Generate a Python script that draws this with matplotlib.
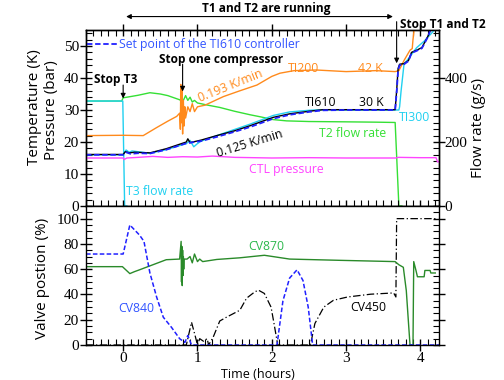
import matplotlib
matplotlib.use("Agg")
import matplotlib.pyplot as plt
from matplotlib.ticker import MultipleLocator, FixedLocator

# ---------------- data (hours, K / bar, g/s, %) ----------------
ti610_t = [-0.5, 0.0, 0.03, 0.08, 0.15, 0.36, 0.58, 0.85, 0.87, 0.9, 1.05, 1.26, 1.5, 1.71, 2.02, 2.24,
           2.5, 2.69, 3.0, 3.4, 3.66, 3.68, 3.70, 3.72, 3.78, 3.84, 3.88, 3.95, 4.02, 4.10, 4.15]
ti610_v = [16.1, 16.1, 17.0, 16.6, 16.8, 16.6, 17.9, 20.0, 21.0, 19.8, 20.6, 22.0, 23.5, 25.1, 27.7, 28.8,
           29.6, 30.1, 30.1, 30.1, 30.1, 36.0, 43.0, 44.3, 44.5, 45.5, 48.0, 48.7, 49.5, 53.0, 56.0]

sp_t = [-0.5, 0.0, 0.04, 0.1, 0.2, 0.36, 0.58, 0.85, 1.05, 1.26, 1.5, 1.71, 2.02, 2.24, 2.5, 2.69,
        3.0, 3.4, 3.66, 3.68, 3.70, 3.72, 3.78, 3.84, 3.88, 3.95, 4.02, 4.10, 4.15]
sp_v = [16.0, 16.0, 16.8, 16.3, 16.5, 16.4, 17.6, 19.6, 20.3, 21.6, 23.2, 24.7, 27.3, 28.5,
        29.4, 29.9, 30.0, 30.0, 30.0, 35.5, 42.5, 44.0, 44.3, 45.3, 47.8, 48.5, 49.3, 52.8, 56.0]

ti300_t = [-0.5, 0.0, 0.04, 0.08, 0.12, 0.36, 0.58, 0.85, 0.9, 0.95, 1.0, 1.05, 1.26, 1.71, 2.02,
           2.24, 2.5, 2.69, 3.0, 3.71, 3.72, 3.74, 3.78, 3.82, 3.87, 3.95, 4.05, 4.15, 4.22]
ti300_v = [16.0, 16.0, 17.5, 16.8, 17.2, 16.5, 17.6, 19.5, 20.5, 18.5, 19.5, 20.3, 22.0, 25.6, 28.3,
           29.4, 29.9, 30.1, 30.0, 30.0, 31.0, 36.0, 44.5, 45.5, 47.0, 49.5, 51.5, 54.0, 56.0]

ti200_t = [-0.5, 0.0, 0.27, 0.45, 0.6, 0.72, 0.76, 0.77, 0.775, 0.78, 0.79, 0.80, 0.81, 0.82, 0.83,
           0.84, 0.87, 0.9, 0.93, 0.96, 1.0, 1.1, 1.35, 1.57, 1.80, 2.0, 2.11, 2.3, 2.6, 3.0, 3.4,
           3.66, 3.71, 3.78, 3.86, 3.89, 3.90, 3.92]
ti200_v = [22.0, 22.1, 22.0, 24.5, 26.5, 28.0, 29.0, 24.0, 38.0, 26.0, 37.0, 22.5, 33.0, 25.0, 31.0,
           27.5, 31.0, 29.5, 32.0, 29.5, 31.0, 31.5, 34.2, 36.0, 37.8, 40.5, 41.5, 42.3, 42.5, 42.0,
           42.3, 42.0, 42.3, 45.5, 48.7, 49.2, 52.0, 56.0]

ctl_t = [-0.5, 0.0, 0.01, 0.05, 0.2, 0.4, 0.6, 0.8, 1.0, 1.2, 1.5, 2.0, 2.5, 3.0, 3.67, 3.70, 4.0,
         4.21, 4.23, 4.25]
ctl_v = [15.0, 15.0, 14.5, 15.0, 15.2, 15.5, 15.2, 15.4, 15.3, 15.6, 15.2, 15.0, 15.1, 15.0, 15.0,
         15.2, 15.1, 15.1, 13.8, 13.8]

t3flow_t = [-0.5, -0.005, 0.02, 0.05]
t3flow_v = [328, 328, 0, 0]

t2flow_t = [-0.5, -0.02, 0.0, 0.1, 0.2, 0.36, 0.5, 0.6, 0.76, 0.8, 0.84, 0.87, 0.9, 0.93, 0.96, 1.0,
            1.12, 1.3, 1.5, 1.71, 1.84, 2.02, 2.2, 2.5, 3.0, 3.4, 3.66, 3.71, 3.75]
t2flow_v = [328, 328, 338, 342, 346, 354, 350, 345, 332, 325, 345, 330, 340, 325, 330, 322,
            316, 308, 296, 285, 279, 270, 266, 264, 263, 262, 261, 0, 0]

cv840_t = [-0.5, 0.0, 0.09, 0.22, 0.28, 0.36, 0.45, 0.54, 0.65, 0.76, 0.83, 0.87, 0.92, 2.07, 2.15,
           2.24, 2.34, 2.42, 2.49, 2.55, 4.25]
cv840_v = [72, 72, 95, 87, 82, 57, 38, 22, 14, 5, 2, 7.5, 0, 0, 35, 53, 59.5, 51, 30, 0, 0]

cv870_t = [-0.5, -0.01, 0.09, 0.15, 0.22, 0.40, 0.58, 0.76, 0.78, 0.785, 0.79, 0.795, 0.80, 0.805,
           0.81, 0.815, 0.82, 0.86, 0.9, 0.93, 0.96, 1.0, 1.03, 1.07, 1.26, 1.57, 1.9, 2.24, 2.92,
           3.66, 3.71, 3.77, 3.81, 3.84, 3.86, 3.90, 3.91, 3.94, 3.96, 4.05, 4.06, 4.13, 4.14, 4.20]
cv870_v = [62, 62, 56.5, 58, 59.5, 63.5, 67.5, 68, 82, 50, 78, 47, 75, 55, 70, 60, 68, 68, 70, 65,
           72, 66, 68, 66, 67.7, 69, 71, 68, 67, 66, 63.5, 61.5, 43, 17, 0, 0, 66, 59, 54, 54, 59,
           59, 57, 57]

cv450_t = [-0.5, 0.85, 0.92, 0.97, 1.0, 1.03, 1.08, 1.13, 1.15, 1.21, 1.30, 1.39, 1.57, 1.66, 1.77,
           1.82, 1.90, 1.99, 2.03, 2.08, 2.52, 2.58, 2.70, 2.83, 3.02, 3.33, 3.64, 3.67, 3.68, 4.22]
cv450_v = [0, 0, 18, 7, 0, 5, 3, 5, 0, 6, 19, 22, 27.5, 37, 42, 43.4, 40.8, 30, 17, 0, 0, 17, 30,
           35.4, 38, 40.2, 41.2, 38, 100, 100]

x_ticks = [0, 1, 2, 3, 4]
temp_ticks = [0, 10, 20, 30, 40, 50]
flow_ticks = [0, 200, 400]
valve_ticks = [0, 20, 40, 60, 80, 100]

# ---------------- style ----------------
ORANGE = '#FF8A1C'
GREEN = '#35E035'
CYAN = '#20D0F0'
BLUE = '#2020FF'
BLUE_TXT = '#3355FF'
MAGENTA = '#FF44FF'
DKGREEN = '#2A8A2A'
GREEN_TXT = '#2DB84D'
SANS = ['Open Sans', 'DejaVu Sans']
SERIF = ['Liberation Serif', 'DejaVu Serif']

plt.rcParams['font.family'] = SANS

W, H = 504, 380
fig = plt.figure(figsize=(W / 100, H / 100), dpi=100)
L, R = 86, 439
ax1 = fig.add_axes([L / W, 1 - 206 / H, (R - L) / W, (206 - 30) / H])
ax3 = fig.add_axes([L / W, 1 - 345 / H, (R - L) / W, (345 - 206) / H], sharex=ax1)
ax2 = ax1.twinx()

lw = 1.0
# flow rates (right axis)
ax2.plot(t2flow_t, t2flow_v, color=GREEN, lw=lw)
ax2.plot(t3flow_t, t3flow_v, color=CYAN, lw=lw)
# temperatures / pressure (left axis)
ax2.set_zorder(ax1.get_zorder() - 1)
ax1.patch.set_visible(False)
ax1.plot(ctl_t, ctl_v, color=MAGENTA, lw=lw)
ax1.plot(ti200_t, ti200_v, color=ORANGE, lw=lw)
ax1.plot(ti300_t, ti300_v, color=CYAN, lw=lw)
ax1.plot(ti610_t, ti610_v, color='black', lw=lw)
ax1.plot(sp_t, sp_v, color=BLUE, lw=1.3, ls=(0, (3, 1.5)))

ax1.set_xlim(-0.5, 4.25)
ax1.set_ylim(0, 55)
ax2.set_ylim(0, 550)

# bottom panel
ax3.plot(cv450_t, cv450_v, color='black', lw=0.9, ls=(0, (6, 2, 1, 2)))
ax3.plot(cv870_t, cv870_v, color=DKGREEN, lw=lw)
ax3.plot(cv840_t, cv840_v, color=BLUE, lw=1.1, ls=(0, (3, 1.5)))
ax3.set_ylim(0, 110)

# ticks
for ax in (ax1, ax2, ax3):
    for sp in ax.spines.values():
        sp.set_linewidth(1.0)

TLS = 11
ax1.yaxis.set_major_locator(FixedLocator(temp_ticks))
ax1.yaxis.set_minor_locator(MultipleLocator(2))
ax1.xaxis.set_major_locator(FixedLocator(x_ticks))
ax1.xaxis.set_minor_locator(MultipleLocator(0.1))
ax1.tick_params(axis='y', which='major', direction='inout', length=8, width=1, labelsize=TLS, pad=1)
ax1.tick_params(axis='y', which='minor', direction='in', length=4, width=0.8)
ax1.tick_params(axis='x', which='major', direction='inout', length=9, width=1, top=True,
                labelbottom=False)
ax1.tick_params(axis='x', which='minor', direction='in', length=4, width=0.8, top=True)
for lab in ax1.get_yticklabels():
    lab.set_family(SERIF)

ax2.yaxis.set_major_locator(FixedLocator(flow_ticks))
ax2.yaxis.set_minor_locator(MultipleLocator(20))
ax2.tick_params(axis='y', which='major', direction='inout', length=8, width=1, labelsize=TLS, pad=0)
ax2.tick_params(axis='y', which='minor', direction='in', length=4, width=0.8)
for lab in ax2.get_yticklabels():
    lab.set_family(SERIF)

ax3.yaxis.set_major_locator(FixedLocator(valve_ticks))
ax3.yaxis.set_minor_locator(MultipleLocator(5))
ax3.tick_params(axis='y', which='major', direction='inout', length=8, width=1, labelsize=TLS,
                pad=1, right=True)
ax3.tick_params(axis='y', which='minor', direction='in', length=4, width=0.8, right=True)
ax3.tick_params(axis='x', which='major', direction='inout', length=9, width=1, labelsize=TLS, pad=0.5)
ax3.tick_params(axis='x', which='minor', direction='in', length=4, width=0.8)
for lab in ax3.get_yticklabels() + ax3.get_xticklabels():
    lab.set_family(SERIF)

# axis labels
fig.text(35 / W, 1 - 107 / H, 'Temperature (K)', rotation=90, ha='center', va='center', fontsize=11)
fig.text(51 / W, 1 - 110 / H, 'Pressure (bar)', rotation=90, ha='center', va='center', fontsize=11)
fig.text(478 / W, 1 - 128 / H, 'Flow rate (g/s)', rotation=90, ha='center', va='center', fontsize=11)
fig.text(43 / W, 1 - 278 / H, 'Valve postion (%)', rotation=90, ha='center', va='center', fontsize=11)
fig.text(258 / W, 1 - 374.5 / H, 'Time (hours)', ha='center', va='center', fontsize=9)

# annotations, top panel
fs = 8.8
fsb = 8.6
ax1.plot([-0.48, -0.075], [50.5, 50.5], color=BLUE, lw=1.3, ls=(0, (3, 1.5)), clip_on=False)
ax1.text(-0.055, 50.5, 'Set point of the TI610 controller', color=BLUE_TXT, fontsize=fs,
         ha='left', va='center')
ax1.text(2.42, 43.1, 'TI200', color=ORANGE, fontsize=fs, ha='center', va='center')
ax1.text(3.33, 43.1, '42 K', color=ORANGE, fontsize=fs, ha='center', va='center')
ax1.text(2.66, 32.2, 'TI610', color='black', fontsize=fs, ha='center', va='center')
ax1.text(3.34, 32.2, '30 K', color='black', fontsize=fs, ha='center', va='center')
ax1.text(3.92, 27.6, 'TI300', color=CYAN, fontsize=fs, ha='center', va='center')
ax1.text(3.09, 22.8, 'T2 flow rate', color=GREEN, fontsize=fs, ha='center', va='center')
ax1.text(2.19, 11.3, 'CTL pressure', color=MAGENTA, fontsize=fs, ha='center', va='center')
ax1.text(0.49, 4.4, 'T3 flow rate', color=CYAN, fontsize=fs, ha='center', va='center')
ax1.text(1.45, 37.4, '0.193 K/min', color=ORANGE, fontsize=fs, ha='center', va='center',
         rotation=22, rotation_mode='anchor')
ax1.text(1.70, 19.4, '0.125 K/min', color='black', fontsize=fs, ha='center', va='center',
         rotation=17, rotation_mode='anchor')

arrow = dict(arrowstyle='-|>', lw=0.8, color='black', mutation_scale=7, shrinkA=0, shrinkB=0)
ax1.text(-0.39, 39.4, 'Stop T3', fontsize=fsb, fontweight='bold', ha='left', va='center')
ax1.annotate('', xy=(0.0, 33.6), xytext=(0.0, 37.8), arrowprops=arrow)
ax1.text(0.476, 45.9, 'Stop one compressor', fontsize=fsb, fontweight='bold', ha='left', va='center')
ax1.annotate('', xy=(0.80, 35.8), xytext=(0.80, 44.3), arrowprops=arrow)
ax1.text(3.72, 56.7, 'Stop T1 and T2', fontsize=fsb, fontweight='bold', ha='left', va='center',
         clip_on=False)
ax1.annotate('', xy=(3.68, 44.6), xytext=(3.68, 57.6), arrowprops=arrow, annotation_clip=False)
arrow2 = dict(arrowstyle='<|-|>', lw=0.8, color='black', mutation_scale=7, shrinkA=0, shrinkB=0)
ax1.annotate('', xy=(0.04, 59.2), xytext=(3.63, 59.2), arrowprops=arrow2, annotation_clip=False)
ax1.text(1.93, 61.7, 'T1 and T2 are running', fontsize=fsb, fontweight='bold', ha='center',
         va='center', clip_on=False)

# annotations, bottom panel
ax3.text(0.18, 29, 'CV840', color=BLUE_TXT, fontsize=fs, ha='center', va='center')
ax3.text(1.93, 77.6, 'CV870', color=GREEN_TXT, fontsize=fs, ha='center', va='center')
ax3.text(3.30, 29.6, 'CV450', color='black', fontsize=fs, ha='center', va='center')

fig.savefig('out.png', dpi=100)
